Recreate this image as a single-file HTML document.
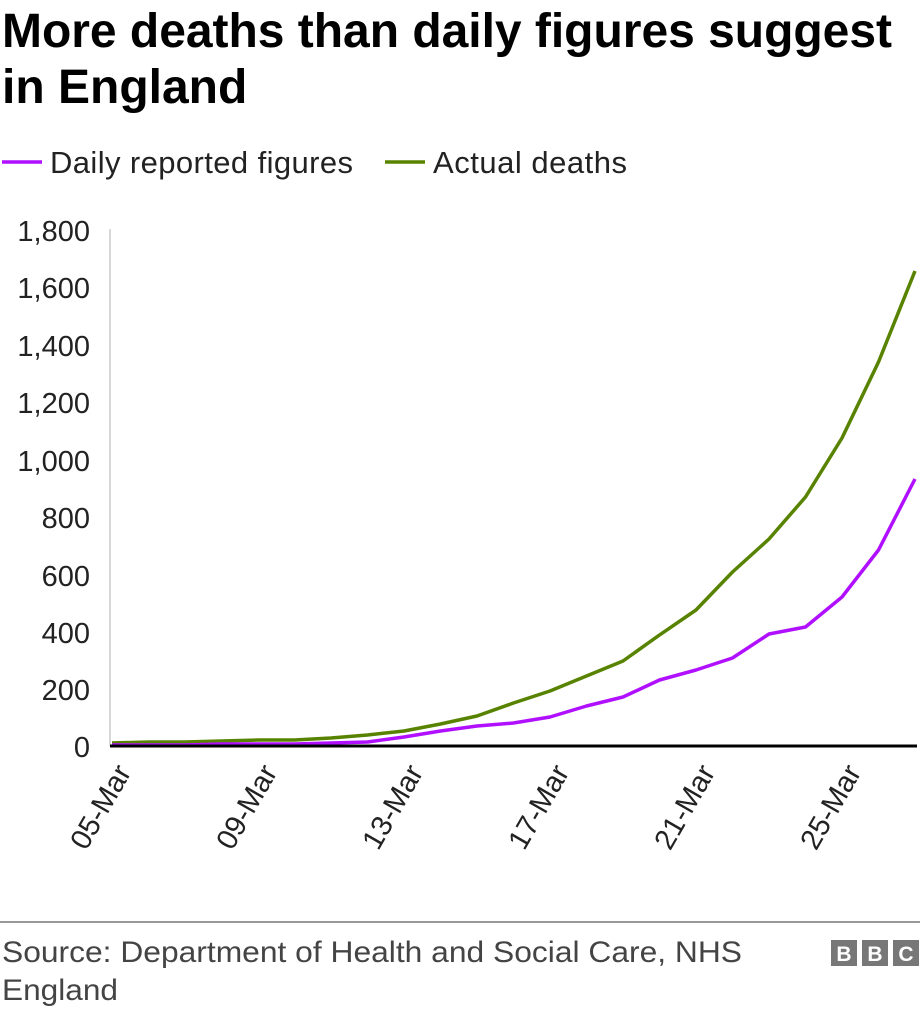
<!DOCTYPE html>
<html><head><meta charset="utf-8"><style>
body{margin:0;background:#fff;width:920px;height:1008px;overflow:hidden;font-family:"Liberation Sans",Arial,sans-serif}
</style></head><body>
<svg width="920" height="1008" xmlns="http://www.w3.org/2000/svg" font-family="Liberation Sans, Arial, sans-serif">
<text x="2" y="47" font-size="48" font-weight="bold" fill="#000" textLength="890">More deaths than daily figures suggest</text>
<text x="2" y="103" font-size="48" font-weight="bold" fill="#000">in England</text>
<line x1="2" y1="162" x2="42" y2="162" stroke="#b010ff" stroke-width="3.5"/>
<text x="50" y="173" font-size="31" fill="#222" textLength="303">Daily reported figures</text>
<line x1="385" y1="162" x2="425" y2="162" stroke="#588300" stroke-width="3.5"/>
<text x="433" y="173" font-size="31" fill="#222" textLength="194">Actual deaths</text>
<line x1="110" y1="229" x2="110" y2="746" stroke="#ccc" stroke-width="1.5"/>
<g font-size="29" fill="#222" text-anchor="end">
<text x="90" y="241">1,800</text><text x="90" y="298">1,600</text><text x="90" y="356">1,400</text>
<text x="90" y="413">1,200</text><text x="90" y="471">1,000</text><text x="90" y="528">800</text>
<text x="90" y="586">600</text><text x="90" y="643">400</text><text x="90" y="700">200</text>
<text x="90" y="757">0</text>
</g>
<polyline fill="none" stroke="#588300" stroke-width="3.5" stroke-linejoin="round" points="112,743 148.5,742 185,742 221.5,741 258,740 294.5,740 331,738 367.5,735 404,731 440.5,724 477,716 513.5,703 550,691 586.5,676 623,661 659.5,635 696,610 732.5,572 769,539 805.5,497 842,438 878.5,362 915,271"/>
<polyline fill="none" stroke="#b010ff" stroke-width="3.5" stroke-linejoin="round" points="112,745 148.5,745 185,745 221.5,744 258,744 294.5,744 331,743 367.5,742 404,737 440.5,731 477,726 513.5,723 550,717 586.5,706 623,697 659.5,680 696,670 732.5,658 769,634 805.5,627 842,597 878.5,550 915,479"/>
<line x1="110" y1="746" x2="917" y2="746" stroke="#000" stroke-width="3"/>
<g font-size="29" fill="#222" text-anchor="end">
<text transform="translate(132,772) rotate(-60)">05-Mar</text>
<text transform="translate(278,772) rotate(-60)">09-Mar</text>
<text transform="translate(424,772) rotate(-60)">13-Mar</text>
<text transform="translate(570,772) rotate(-60)">17-Mar</text>
<text transform="translate(716,772) rotate(-60)">21-Mar</text>
<text transform="translate(862,772) rotate(-60)">25-Mar</text>
</g>
<line x1="0" y1="922" x2="920" y2="922" stroke="#777" stroke-width="1.5"/>
<text x="2" y="962" font-size="30" fill="#444" textLength="740" lengthAdjust="spacingAndGlyphs">Source: Department of Health and Social Care, NHS</text>
<text x="2" y="1000" font-size="30" fill="#444" textLength="116" lengthAdjust="spacingAndGlyphs">England</text>
<g font-size="21" font-weight="bold" fill="#fff" text-anchor="middle">
<rect x="831" y="940" width="26" height="26" fill="#777"/><text x="844" y="961">B</text>
<rect x="862" y="940" width="26" height="26" fill="#777"/><text x="875" y="961">B</text>
<rect x="893" y="940" width="26" height="26" fill="#777"/><text x="906" y="961">C</text>
</g>
</svg>
</body></html>
